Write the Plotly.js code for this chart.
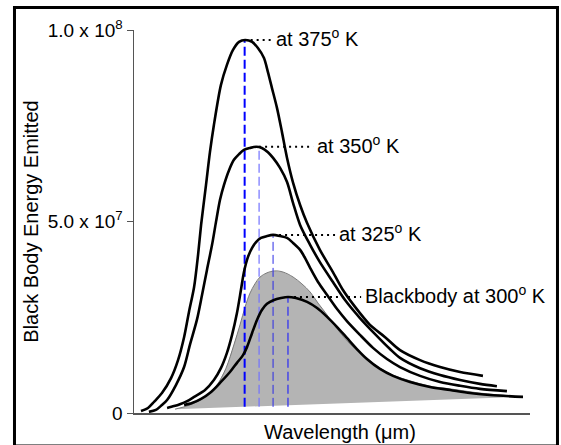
<!DOCTYPE html>
<html>
<head>
<meta charset="utf-8">
<script src="https://cdn.plot.ly/plotly-3.0.1.min.js"></script>
<style>html,body{margin:0;padding:0;background:#fff;}#chart{width:561px;height:445px;}</style>
</head>
<body>
<div id="chart"></div>
<script>
// Wavelength (arbitrary µm-like units) and emitted energy (units of 1e7)
const wl375 = [3.30,3.60,3.86,4.20,4.59,4.89,5.15,5.36,5.58,5.75,5.88,6.09,6.26,6.43,6.73,6.99,7.25,7.51,7.77,8.07,8.32,8.58,8.75,8.92,9.14,9.35,9.57,9.83,10.13,10.43,10.98,11.54,11.97,12.49,13.13,13.78,14.42,15.28,16.14,17.00,17.98];
const e375  = [0.05,0.13,0.29,0.52,0.91,1.38,1.98,2.64,3.29,4.13,4.91,5.95,6.81,7.52,8.56,9.09,9.48,9.69,9.74,9.69,9.53,9.27,8.90,8.49,7.96,7.34,6.66,6.01,5.43,4.96,4.26,3.68,3.21,2.77,2.30,1.98,1.64,1.38,1.20,1.07,0.97];

const wl350 = [3.64,3.94,4.20,4.42,4.80,5.15,5.40,5.70,5.92,6.13,6.35,6.52,6.69,6.86,7.08,7.29,7.51,7.72,7.98,8.24,8.49,8.75,8.97,9.27,9.57,9.83,10.13,10.56,10.98,11.54,12.06,12.70,13.35,13.99,14.42,15.28,16.14,17.00,17.85,18.58];
const e350  = [0.03,0.08,0.21,0.34,0.73,1.20,1.78,2.43,3.08,3.73,4.39,4.99,5.56,5.95,6.34,6.61,6.76,6.87,6.92,6.95,6.92,6.81,6.66,6.40,6.03,5.48,4.91,4.39,3.94,3.42,2.95,2.48,2.06,1.67,1.44,1.17,0.99,0.86,0.76,0.70];

const wl325 = [4.42,4.72,4.97,5.28,5.58,6.05,6.43,6.73,6.99,7.21,7.42,7.59,7.72,7.89,8.07,8.24,8.45,8.71,8.97,9.27,9.57,9.83,10.13,10.34,10.56,10.90,11.29,11.71,12.14,12.70,13.26,13.86,14.42,15.28,16.14,17.00,17.85,19.01];
const e325  = [0.13,0.18,0.23,0.31,0.42,0.60,0.86,1.17,1.57,2.04,2.61,3.21,3.68,4.07,4.31,4.46,4.57,4.62,4.65,4.62,4.57,4.44,4.26,4.05,3.79,3.42,3.08,2.72,2.40,2.04,1.70,1.41,1.20,0.97,0.81,0.71,0.63,0.57];

const wl300 = [5.15,5.49,5.88,6.31,6.73,7.12,7.42,7.68,7.85,8.07,8.28,8.49,8.71,9.01,9.31,9.61,9.95,10.43,10.86,11.29,11.71,12.14,12.57,13.00,13.56,14.12,14.85,15.71,16.57,17.42,18.28,19.70];
const e300  = [0.21,0.26,0.37,0.55,0.81,1.07,1.31,1.51,1.72,2.09,2.43,2.69,2.85,2.95,3.00,3.03,3.00,2.90,2.74,2.51,2.25,1.96,1.67,1.41,1.15,0.97,0.81,0.68,0.60,0.52,0.47,0.42];

// Grey shaded blackbody area (upper edge, then straight base back)
const greyTopWl = [4.76,5.40,6.05,6.56,6.95,7.29,7.55,7.77,7.98,8.19,8.41,8.71,9.05,9.40,9.83,10.21,10.56,10.90,11.29,11.63,11.97,12.36,12.70,13.13,13.56,14.12,14.85,15.71,16.57,17.85,19.70];
const greyTopE  = [0.10,0.21,0.42,0.73,1.17,1.78,2.30,2.77,3.13,3.37,3.55,3.66,3.71,3.68,3.55,3.37,3.16,2.87,2.56,2.27,2.01,1.75,1.57,1.36,1.17,0.99,0.84,0.70,0.63,0.52,0.42];
const greyBaseWl = [19.70,4.76];
const greyBaseE  = [0.42,0.10];

// Peaks (dashed markers) for 375, 350, 325, 300 K
const peakLabels = ["at 375<sup>o</sup> K","at 350<sup>o</sup> K","at 325<sup>o</sup> K","Blackbody at 300<sup>o</sup> K"];
const peakWl = [7.75, 8.37, 8.97, 9.61];
const peakE  = [9.74, 6.95, 4.65, 3.03];
const dashBase = 0.16;

// Y ticks
const yTickVals = [0, 5, 10];
const yTickText = ["0", "5.0 x 10<sup>7</sup>", "1.0 x 10<sup>8</sup>"];

// ---- styles / positions ----
const labelX = [9.01, 10.77, 11.71, 12.83];
const dashStyles = [
  {color:'#0000ff', width:2.0},
  {color:'#7272ff', width:1.2},
  {color:'#2b2be6', width:1.0},
  {color:'#4646e8', width:1.5}
];
const FONT = '"Liberation Sans", Arial, sans-serif';

const traces = [];
traces.push({
  x: greyTopWl.concat(greyBaseWl), y: greyTopE.concat(greyBaseE),
  mode:'lines', fill:'toself', fillcolor:'#b4b4b4',
  line:{width:0, color:'#b4b4b4'}, hoverinfo:'skip'
});
traces.push({
  x: greyTopWl, y: greyTopE, mode:'lines', line:{width:1, color:'#7a7a7a', shape:'spline'}, hoverinfo:'skip'
});
peakWl.forEach((w,i)=>{
  traces.push({
    x:[w,w], y:[dashBase, peakE[i]], mode:'lines',
    line:{color:dashStyles[i].color, width:dashStyles[i].width, dash:'9px,4px'}, hoverinfo:'skip'
  });
  traces.push({
    x:[w, labelX[i]-0.08], y:[peakE[i], peakE[i]], mode:'lines',
    line:{color:'#000', width:2, dash:'2px,4px'}, hoverinfo:'skip'
  });
});
[[wl300,e300],[wl325,e325],[wl350,e350],[wl375,e375]].forEach(([x,y])=>{
  traces.push({x:x, y:y, mode:'lines', line:{color:'#000', width:2.6, shape:'spline', smoothing:0.8}, hoverinfo:'skip'});
});

const annotations = peakLabels.map((t,i)=>({
  x: labelX[i], y: peakE[i], xref:'x', yref:'y', text:t, showarrow:false,
  xanchor:'left', yanchor:'middle', yshift:2, font:{family:FONT, size:20, color:'#000'}
}));
// x-axis title placed as annotation (slightly right of centre, as in the original)
annotations.push({
  xref:'paper', yref:'paper', x:0.52, y:0, yshift:-19, xanchor:'center', yanchor:'middle',
  text:'Wavelength (\u03bcm)', showarrow:false, font:{family:FONT, size:20, color:'#000'}
});

const layout = {
  width:561, height:445,
  margin:{l:134, r:31, t:30, b:32},
  paper_bgcolor:'#fff', plot_bgcolor:'#fff',
  showlegend:false, hovermode:false,
  font:{family:FONT, size:19, color:'#000'},
  xaxis:{
    range:[3,20], showgrid:false, zeroline:false, showline:true, linecolor:'#555', linewidth:1.5,
    ticks:'', showticklabels:false
  },
  yaxis:{
    range:[0,10], showgrid:false, zeroline:false, showline:true, linecolor:'#555', linewidth:1.5,
    ticks:'outside', ticklen:6, tickwidth:1, tickcolor:'#555',
    tickvals:yTickVals, ticktext:yTickText, tickfont:{family:FONT, size:19, color:'#000'},
    title:{text:'Black Body Energy Emitted', font:{family:FONT, size:20, color:'#000'}, standoff:3}
  },
  annotations: annotations,
  shapes:[{
    type:'rect', xref:'paper', yref:'paper',
    x0:-0.3018, x1:1.0694, y0:-0.0862, y1:1.0587,
    line:{color:'#000', width:3}, layer:'above'
  }]
};

Plotly.newPlot('chart', traces, layout, {staticPlot:true, displayModeBar:false});
</script>
</body>
</html>
